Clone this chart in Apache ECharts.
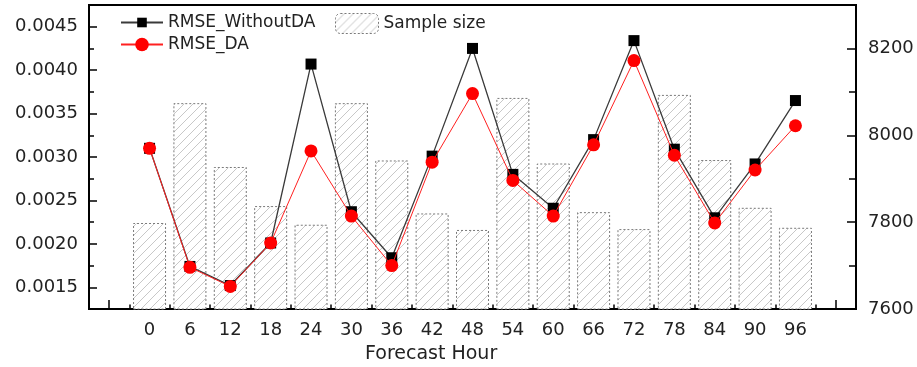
<!DOCTYPE html>
<html>
<head>
<meta charset="utf-8">
<script src="https://cdn.jsdelivr.net/npm/echarts@6/dist/echarts.min.js"></script>
<style>
  html, body { margin: 0; padding: 0; background: #fff; }
  #chart { width: 917px; height: 367px; }
</style>
</head>
<body>
<div id="chart"></div>
<script>
// Forecast lead times (hours)
const hours = [0, 6, 12, 18, 24, 30, 36, 42, 48, 54, 60, 66, 72, 78, 84, 90, 96];

// RMSE without data assimilation
const rmseWithoutDA = [0.00310, 0.00174, 0.00152, 0.00201, 0.00407, 0.00237, 0.00184, 0.00301, 0.00425,
                       0.00280, 0.00241, 0.00320, 0.00434, 0.00309, 0.00230, 0.00292, 0.00365];
// RMSE with data assimilation
const rmseDA = [0.00310, 0.00173, 0.00151, 0.00201, 0.00307, 0.00232, 0.00175, 0.00294, 0.00373,
                0.00273, 0.00232, 0.00314, 0.00411, 0.00302, 0.00224, 0.00285, 0.00336];
// Number of samples per lead time
const sampleSize = [7798, 8074, 7927, 7837, 7794, 8074, 7942, 7820, 7782,
                    8086, 7935, 7823, 7784, 8093, 7943, 7833, 7787];

// Tick positions
const xMajorTicks = [-6, 0, 6, 12, 18, 24, 30, 36, 42, 48, 54, 60, 66, 72, 78, 84, 90, 96, 102];
const xMinorTicks = [-3, 3, 9, 15, 21, 27, 33, 39, 45, 51, 57, 63, 69, 75, 81, 87, 93, 99];
const leftMajorTicks = [0.0015, 0.0020, 0.0025, 0.0030, 0.0035, 0.0040, 0.0045];
const leftMinorTicks = [0.00175, 0.00225, 0.00275, 0.00325, 0.00375, 0.00425];
const rightMajorTicks = [7600, 7800, 8000, 8200];
const rightMinorTicks = [7700, 7900, 8100];

const FONT = 'DejaVu Sans';
const TEXT = '#222';

// Diagonal hatch fill for the sample-size bars
function hatchPattern() {
  const s = 9;
  const c = document.createElement('canvas');
  c.width = s; c.height = s;
  const g = c.getContext('2d');
  g.fillStyle = '#fff';
  g.fillRect(0, 0, s, s);
  g.strokeStyle = '#c8c8c8';
  g.lineWidth = 1;
  g.beginPath();
  g.moveTo(0, s); g.lineTo(s, 0);
  g.moveTo(-1, 1); g.lineTo(1, -1);
  g.moveTo(s - 1, s + 1); g.lineTo(s + 1, s - 1);
  g.stroke();
  return c;
}
const hatchFill = { image: hatchPattern(), repeat: 'repeat' };
const barStyle = { color: hatchFill, borderColor: '#7a7a7a', borderWidth: 1, borderType: [2, 2] };

const chart = echarts.init(document.getElementById('chart'), null, { renderer: 'canvas' });

const axisLineStyle = { color: '#000', width: 2 };
const tickLineStyle = { color: '#000', width: 1.5 };
const labelStyle = { fontFamily: FONT, fontSize: 18, color: TEXT };

chart.setOption({
  animation: false,
  backgroundColor: '#fff',
  grid: { left: 89, right: 61, top: 5, bottom: 58, show: true, borderColor: '#000', borderWidth: 2, backgroundColor: 'transparent' },
  legend: [
    {
      data: ['RMSE_WithoutDA'], left: 120, top: 14, padding: 0, selectedMode: false,
      itemWidth: 42, itemHeight: 12, textStyle: { fontFamily: FONT, fontSize: 17, color: TEXT }
    },
    {
      data: ['RMSE_DA'], left: 120, top: 36, padding: 0, selectedMode: false,
      itemWidth: 42, itemHeight: 17, textStyle: { fontFamily: FONT, fontSize: 17, color: TEXT }
    },
    {
      data: [{ name: 'Sample size', itemStyle: barStyle }], left: 335, top: 13, padding: 0, selectedMode: false,
      itemWidth: 43, itemHeight: 20, textStyle: { fontFamily: FONT, fontSize: 17, color: TEXT }
    }
  ],
  graphic: [
    { type: 'text', left: 365, top: 345, style: { text: 'Forecast Hour', fontFamily: FONT, fontSize: 19, fill: TEXT } }
  ],
  xAxis: [
    {
      type: 'value', position: 'bottom', min: -9, max: 105,
      splitLine: { show: false },
      axisLine: { show: true, onZero: false, lineStyle: axisLineStyle },
      axisTick: { show: true, inside: true, length: 9, customValues: xMajorTicks, lineStyle: tickLineStyle },
      axisLabel: Object.assign({ customValues: hours, margin: 12, formatter: v => String(v) }, labelStyle)
    },
    {
      type: 'value', position: 'bottom', min: -9, max: 105,
      splitLine: { show: false },
      axisLine: { show: false, onZero: false },
      axisTick: { show: true, inside: true, length: 4.5, customValues: xMinorTicks, lineStyle: tickLineStyle },
      axisLabel: { show: false }
    }
  ],
  yAxis: [
    {
      type: 'value', position: 'left', min: 0.00125, max: 0.00475,
      splitLine: { show: false },
      axisLine: { show: true, onZero: false, lineStyle: axisLineStyle },
      axisTick: { show: true, inside: true, length: 8, customValues: leftMajorTicks, lineStyle: tickLineStyle },
      axisLabel: Object.assign({ customValues: leftMajorTicks, margin: 11, formatter: v => v.toFixed(4) }, labelStyle)
    },
    {
      type: 'value', position: 'left', min: 0.00125, max: 0.00475,
      splitLine: { show: false },
      axisLine: { show: false, onZero: false },
      axisTick: { show: true, inside: true, length: 5, customValues: leftMinorTicks, lineStyle: tickLineStyle },
      axisLabel: { show: false }
    },
    {
      type: 'value', position: 'right', min: 7600, max: 8300,
      splitLine: { show: false },
      axisLine: { show: true, onZero: false, lineStyle: axisLineStyle },
      axisTick: { show: true, inside: true, length: 9, customValues: rightMajorTicks, lineStyle: tickLineStyle },
      axisLabel: Object.assign({ customValues: rightMajorTicks, margin: 12, formatter: v => String(v) }, labelStyle)
    },
    {
      type: 'value', position: 'right', min: 7600, max: 8300,
      splitLine: { show: false },
      axisLine: { show: false, onZero: false },
      axisTick: { show: true, inside: true, length: 7, customValues: rightMinorTicks, lineStyle: tickLineStyle },
      axisLabel: { show: false }
    }
  ],
  series: [
    {
      name: 'Sample size', type: 'bar', xAxisIndex: 0, yAxisIndex: 2,
      barWidth: 33, z: 1,
      itemStyle: barStyle,
      data: hours.map((h, i) => [h, sampleSize[i]])
    },
    {
      name: 'RMSE_WithoutDA', type: 'line', xAxisIndex: 0, yAxisIndex: 0, z: 3,
      symbol: 'rect', symbolSize: 11,
      itemStyle: { color: '#000' },
      lineStyle: { color: '#3a3a3a', width: 1.3 },
      data: hours.map((h, i) => [h, rmseWithoutDA[i]])
    },
    {
      name: 'RMSE_DA', type: 'line', xAxisIndex: 0, yAxisIndex: 0, z: 4,
      symbol: 'circle', symbolSize: 13,
      itemStyle: { color: '#ff0000' },
      lineStyle: { color: '#ff2020', width: 1 },
      data: hours.map((h, i) => [h, rmseDA[i]])
    }
  ]
});
</script>
</body>
</html>
